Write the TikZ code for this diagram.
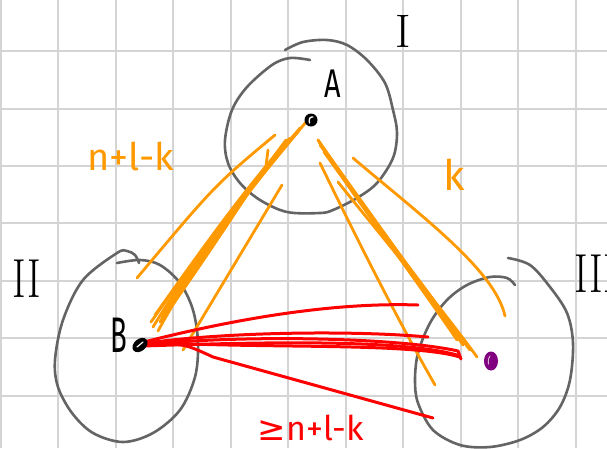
\documentclass[tikz,border=0pt]{standalone}
\usepackage{fontspec}
\usetikzlibrary{shapes.geometric}
\newfontfamily\hand{Fira Sans}
\newfontfamily\symf{DejaVu Sans}
\definecolor{gridc}{RGB}{212,212,212}
\definecolor{ringc}{RGB}{100,100,100}
\definecolor{org}{RGB}{255,153,0}
\definecolor{redc}{RGB}{255,0,0}
\definecolor{purp}{RGB}{128,0,128}
\tikzset{
  gridline/.style={draw=gridc, line width=2pt},
  ring/.style={draw=ringc, line width=2.6pt, line cap=round, line join=round},
  ostroke/.style={draw=org, line width=2.8pt, line cap=round, line join=round},
  rstroke/.style={draw=redc, line width=3pt, line cap=round, line join=round},
  lbl/.style={inner sep=0pt, anchor=center},
}
\begin{document}
\begin{tikzpicture}[x=1pt,y=-1pt]
\useasboundingbox (0,0) rectangle (607,448);
\clip (0,0) rectangle (607,448);
\fill[white] (0,0) rectangle (607,448);
% grid
\foreach \i in {0,...,10} {\draw[gridline] ({1+57.45*\i},0) -- ({1+57.45*\i},448);}
\foreach \j in {1,...,7} {\draw[gridline] (0,{-6.4+57.45*\j}) -- (607,{-6.4+57.45*\j});}
% regions
\draw[ring] plot[smooth, tension=0.55] coordinates {(310,60) (290,58) (272,65) (247,87) (232,110) (225,140) (228,163) (240,183) (260,200) (287,212) (320,213) (333,210) (357,198) (377,183) (393,158) (397,133) (393,110) (385,83) (367,60) (347,45) (327,40) (303,42) (285,50)};
\draw[ring] plot[smooth, tension=0.55] coordinates {(139,263) (135,255) (127,251) (117,253) (83,280) (63,320) (55,360) (58,387) (72,413) (93,433) (123,442) (153,433) (180,410) (195,377) (198,343) (193,310) (180,283) (160,265) (140,260) (117,263)};
\draw[ring] plot[smooth, tension=0.55] coordinates {(508,258) (530,265) (550,287) (567,313) (573,343) (570,380) (560,407) (543,427) (520,440) (490,447) (460,445) (433,430) (418,403) (415,380) (418,353) (430,323) (447,300) (467,285) (490,277) (507,278) (515,285)};
% orange strokes A--B
\draw[ostroke] (275,135) .. controls (215,185) .. (137,278);
\draw[ostroke] (282,185) -- (183,350);
\draw[ostroke] (306,122) .. controls (250,190) and (200,250) .. (153,327);
\draw[ostroke] (300,128) .. controls (240,200) and (190,272) .. (158,331);
\draw[ostroke] (295,134) .. controls (232,208) and (182,278) .. (151,322);
\draw[ostroke] (286,140) .. controls (248,192) and (196,256) .. (162,318);
\draw[ostroke] (268,150) -- (266,166) .. controls (232,218) and (192,278) .. (166,314);
\draw[ostroke] (298,132) .. controls (255,178) and (215,232) .. (160,322);
\draw[ostroke] (290,138) .. controls (240,195) and (205,245) .. (155,315);
% orange strokes A--C
\draw[ostroke] (318,140) .. controls (360,200) and (420,282) .. (463,345);
\draw[ostroke] (320,145) .. controls (370,212) and (425,292) .. (470,350);
\draw[ostroke] (338,182) .. controls (382,237) and (440,306) .. (477,357);
\draw[ostroke] (318,140) .. controls (345,185) and (408,268) .. (457,340);
\draw[ostroke] (324,152) .. controls (365,210) and (420,280) .. (465,343);
\draw[ostroke] (320,163) .. controls (355,235) and (395,315) .. (435,385);
\draw[ostroke] (353,158) .. controls (420,215) and (495,270) .. (505,316);
% red strokes B--C
\draw[rstroke] (140,343) .. controls (230,320) and (330,302) .. (418,305);
\draw[rstroke] (140,344) .. controls (220,332) and (350,330) .. (428,337);
\draw[rstroke] (140,345) .. controls (250,334) and (400,338) .. (458,351) -- (461,359);
\draw[rstroke] (143,346) .. controls (260,342) and (400,339) .. (457,355);
\draw[rstroke] (150,342) .. controls (260,349) and (410,342) .. (460,357);
\draw[rstroke] (150,343) .. controls (185,344) .. (213,357) -- (433,418);
% points
\node[circle, fill=black, minimum size=13pt, inner sep=0pt] (A) at (311,120) {};
\draw[white, line width=1.3pt, line cap=round] (309.5,123) .. controls (308.5,119) and (310,116.5) .. (313,117);
\node[ellipse, fill=black, minimum width=17pt, minimum height=12pt, inner sep=0pt, rotate=40] (B) at (140,345) {};
\draw[white, line width=1.2pt, line cap=round] (137,347) -- (143,342);
\node[ellipse, fill=purp, minimum width=14pt, minimum height=19pt, inner sep=0pt] (C) at (491,361) {};
\draw[purp!30, line width=1pt, line cap=round] (488.5,364) .. controls (488,359) .. (490,356);
% labels
\node[lbl] (lA) at (333,84) {\hand\fontsize{40}{44}\selectfont\scalebox{0.72}[1]{A}};
\node[lbl] (lB) at (119,335) {\hand\fontsize{50}{54}\selectfont\scalebox{0.55}[1]{B}};
\node[lbl] (lI) at (403,31) {\fontsize{47}{50}\selectfont I};
\node[lbl] (lII) at (27,279) {\fontsize{55}{58}\selectfont\scalebox{0.75}[1]{II}};
\node[lbl] (lIII) at (596,274) {\fontsize{55}{58}\selectfont\scalebox{0.75}[1]{III}};
\node[lbl, text=org] (lnk) at (131,156) {\hand\fontsize{38}{42}\selectfont n+l-k};
\node[lbl, text=org] (lk) at (454,175) {\hand\fontsize{42}{46}\selectfont k};
\node[lbl, text=redc] (lge) at (311,428) {{\symf\fontsize{34}{38}\selectfont ≥}{\hand\fontsize{34}{38}\selectfont n+l-k}};
\end{tikzpicture}
\end{document}
